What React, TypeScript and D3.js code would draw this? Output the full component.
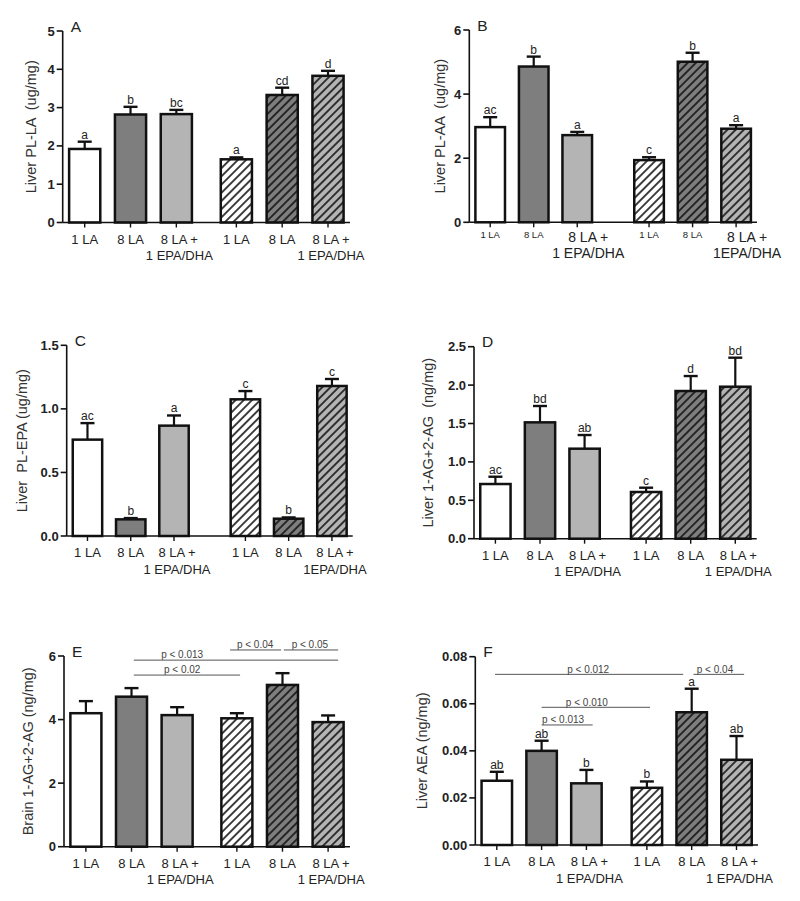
import React from "react";
import * as d3 from "d3";

// ---------- shared categories ----------
const groupLabels = ["1 LA", "8 LA", "8 LA +|1 EPA/DHA", "1 LA", "8 LA", "8 LA +|1 EPA/DHA"];
const groupLabelsAlt = ["1 LA", "8 LA", "8 LA +|1 EPA/DHA", "1 LA", "8 LA", "8 LA +|1EPA/DHA"];
const hatchedGroups = [false, false, false, true, true, true];

// ---------- Panel A ----------
const aMeans = [1.92, 2.82, 2.83, 1.65, 3.33, 3.83];
const aSem = [0.19, 0.2, 0.11, 0.05, 0.19, 0.13];
const aLetters = ["a", "b", "bc", "a", "cd", "d"];
const aTicks = [0, 1, 2, 3, 4, 5];

// ---------- Panel B ----------
const bMeans = [2.97, 4.86, 2.72, 1.94, 5.01, 2.92];
const bSem = [0.31, 0.31, 0.1, 0.09, 0.28, 0.11];
const bLetters = ["ac", "b", "a", "c", "b", "a"];
const bTicks = [0, 2, 4, 6];

// ---------- Panel C ----------
const cMeans = [0.758, 0.131, 0.868, 1.075, 0.136, 1.18];
const cSem = [0.13, 0.01, 0.08, 0.065, 0.01, 0.055];
const cLetters = ["ac", "b", "a", "c", "b", "c"];
const cTicks = [0, 0.5, 1.0, 1.5];

// ---------- Panel D ----------
const dMeans = [0.712, 1.515, 1.172, 0.608, 1.923, 1.979];
const dSem = [0.095, 0.213, 0.178, 0.056, 0.195, 0.378];
const dLetters = ["ac", "bd", "ab", "c", "d", "bd"];
const dTicks = [0, 0.5, 1.0, 1.5, 2.0, 2.5];

// ---------- Panel E ----------
const eMeans = [4.2, 4.72, 4.14, 4.04, 5.09, 3.92];
const eSem = [0.38, 0.27, 0.25, 0.16, 0.37, 0.21];
const eLetters = ["", "", "", "", "", ""];
const eTicks = [0, 2, 4, 6];
const eBracketLabels = ["p < 0.04", "p < 0.05", "p < 0.013", "p < 0.02"];
const eBracketFrom = [3.16, 4.34, 1.05, 1.05];
const eBracketTo = [4.28, 5.53, 5.53, 3.38];
const eBracketText = [3.71, 4.91, 2.11, 2.11];
const eBracketLevel = [6.19, 6.19, 5.87, 5.4];

// ---------- Panel F ----------
const fMeans = [0.0273, 0.04, 0.0262, 0.0243, 0.0564, 0.0362];
const fSem = [0.0038, 0.0043, 0.0057, 0.0027, 0.01, 0.0101];
const fLetters = ["ab", "ab", "b", "b", "a", "ab"];
const fTicks = [0, 0.02, 0.04, 0.06, 0.08];
const fBracketLabels = ["p < 0.012", "p < 0.04", "p < 0.010", "p < 0.013"];
const fBracketFrom = [-0.04, 4.39, 1.0, 1.0];
const fBracketTo = [4.16, 5.52, 3.42, 2.14];
const fBracketText = [2.04, 4.87, 2.01, 1.48];
const fBracketLevel = [0.0725, 0.0725, 0.0585, 0.051];

const FONT = "'Liberation Sans', Arial, Helvetica, sans-serif";
const FILLS = ["#ffffff", "#7e7e7e", "#b4b4b4"];

type Bracket = { labels: string[]; from: number[]; to: number[]; text: number[]; level: number[] };

type PanelProps = {
  letter: string;
  yLabel: string;
  means: number[];
  sem: number[];
  letters: string[];
  ticks: number[];
  tickFmt: string;
  yMax: number;
  labels: string[];
  axisX: number;
  xEnd: number;
  y0: number;
  yTop: number;
  gap: number;
  yLabelOffset: number;
  brackets?: Bracket;
  smallSingle?: boolean;
  multiDx?: number;
};

function Panel(p: PanelProps) {
  const slots = p.means.map((_, i) => (i < 3 ? i : i - 3 + 2 + p.gap));
  const x = d3.scaleLinear().domain([-0.48, slots[5] + 0.48]).range([p.axisX, p.xEnd]);
  const y = d3.scaleLinear().domain([0, p.yMax]).range([p.y0, p.yTop]);
  const spacing = x(1) - x(0);
  const bw = spacing * 0.68;
  const fmt = d3.format(p.tickFmt);
  const capW = 14;
  const midY = (p.y0 + p.yTop) / 2;
  const multiDx = p.multiDx ?? 3;

  return (
    <g fontFamily={FONT}>
      {/* bars */}
      {p.means.map((m, i) => {
        const cx = x(slots[i]);
        const top = y(m);
        const fill = FILLS[i % 3];
        return (
          <g key={"bar" + i}>
            <line x1={cx} x2={cx} y1={top} y2={y(m + p.sem[i])} stroke="#111" strokeWidth={2.2} />
            <line x1={cx - capW / 2} x2={cx + capW / 2} y1={y(m + p.sem[i])} y2={y(m + p.sem[i])} stroke="#111" strokeWidth={2.4} />
            <rect x={cx - bw / 2} y={top} width={bw} height={p.y0 - top} fill={fill} />
            {hatchedGroups[i] && (
              <rect x={cx - bw / 2} y={top} width={bw} height={p.y0 - top} fill="url(#hatch)" />
            )}
            <rect x={cx - bw / 2} y={top} width={bw} height={p.y0 - top} fill="none" stroke="#111" strokeWidth={2.5} />
            {p.letters[i] && (
              <text x={cx} y={y(m + p.sem[i]) - 3} textAnchor="middle" fontSize={12} fill="#222">
                {p.letters[i]}
              </text>
            )}
          </g>
        );
      })}
      {/* axes */}
      <line x1={p.axisX} x2={p.axisX} y1={p.yTop} y2={p.y0} stroke="#111" strokeWidth={1.6} />
      <line x1={p.axisX} x2={p.xEnd} y1={p.y0} y2={p.y0} stroke="#111" strokeWidth={1.6} />
      {p.ticks.map((t) => (
        <g key={"yt" + t}>
          <line x1={p.axisX - 6} x2={p.axisX} y1={y(t)} y2={y(t)} stroke="#111" strokeWidth={1.6} />
          <text x={p.axisX - 8} y={y(t) + 4.5} textAnchor="end" fontSize={13} fontWeight="bold" fill="#222">
            {fmt(t)}
          </text>
        </g>
      ))}
      {slots.map((s, i) => {
        const cx = x(s);
        const parts = p.labels[i].split("|");
        const multi = parts.length > 1;
        const size = p.smallSingle ? (multi ? 14 : 9.5) : 13;
        const dx = multi ? multiDx : 0;
        const base1 = p.smallSingle && !multi ? 16 : p.smallSingle ? 19.5 : 21;
        return (
          <g key={"xt" + i}>
            <line x1={cx} x2={cx} y1={p.y0} y2={p.y0 + 5} stroke="#111" strokeWidth={1.4} />
            {parts.map((t, j) => (
              <text
                key={j}
                x={cx + dx}
                y={p.y0 + base1 + j * 16.5}
                textAnchor="middle"
                fontSize={size}
                fill="#222"
              >
                {t}
              </text>
            ))}
          </g>
        );
      })}
      {/* y label */}
      <text
        transform={`translate(${p.axisX - p.yLabelOffset},${midY}) rotate(-90)`}
        textAnchor="middle"
        fontSize={14.5}
        fill="#333"
        style={{ whiteSpace: "pre" }}
      >
        {p.yLabel}
      </text>
      {/* panel letter */}
      <text x={p.axisX + 8} y={p.yTop + 0.5} fontSize={15.5} fill="#222">
        {p.letter}
      </text>
      {/* brackets */}
      {p.brackets &&
        p.brackets.labels.map((lab, k) => {
          const b = p.brackets!;
          const ly = y(b.level[k]);
          return (
            <g key={"br" + k}>
              <line x1={x(b.from[k])} x2={x(b.to[k])} y1={ly} y2={ly} stroke="#555" strokeWidth={1} />
              <text x={x(b.text[k])} y={ly - 1.8} textAnchor="middle" fontSize={10} fill="#444">
                {lab}
              </text>
            </g>
          );
        })}
    </g>
  );
}

export default function App() {
  return (
    <svg
      width={800}
      height={901}
      viewBox="0 0 800 901"
      style={{ position: "absolute", left: 0, top: 0, background: "#fff" }}
    >
      <defs>
        <pattern id="hatch" patternUnits="userSpaceOnUse" width={5.8} height={5.8} patternTransform="rotate(45)">
          <line x1={2.9} y1={-1} x2={2.9} y2={6.8} stroke="#111" strokeWidth={1.6} />
        </pattern>
      </defs>
      <rect x={0} y={0} width={800} height={901} fill="#fff" />
      <Panel
        letter="A"
        yLabel="Liver PL-LA  (ug/mg)"
        means={aMeans}
        sem={aSem}
        letters={aLetters}
        ticks={aTicks}
        tickFmt="d"
        yMax={5}
        labels={groupLabels}
        axisX={62.7}
        xEnd={350}
        y0={222.5}
        yTop={31}
        gap={1.31}
        yLabelOffset={27}
      />
      <Panel
        letter="B"
        yLabel="Liver PL-AA  (ug/mg)"
        means={bMeans}
        sem={bSem}
        letters={bLetters}
        ticks={bTicks}
        tickFmt="d"
        yMax={6}
        labels={groupLabelsAlt}
        axisX={469.3}
        xEnd={757}
        y0={222.3}
        yTop={30}
        gap={1.65}
        yLabelOffset={24}
        smallSingle={true}
        multiDx={11}
      />
      <Panel
        letter="C"
        yLabel="Liver  PL-EPA (ug/mg)"
        means={cMeans}
        sem={cSem}
        letters={cLetters}
        ticks={cTicks}
        tickFmt=".1f"
        yMax={1.5}
        labels={groupLabelsAlt}
        axisX={66.7}
        xEnd={352.7}
        y0={536}
        yTop={345.3}
        gap={1.65}
        yLabelOffset={40}
      />
      <Panel
        letter="D"
        yLabel="Liver 1-AG+2-AG  (ng/mg)"
        means={dMeans}
        sem={dSem}
        letters={dLetters}
        ticks={dTicks}
        tickFmt=".1f"
        yMax={2.5}
        labels={groupLabels}
        axisX={474}
        xEnd={756.7}
        y0={538.7}
        yTop={346.7}
        gap={1.38}
        yLabelOffset={41}
      />
      <Panel
        letter="E"
        yLabel="Brain 1-AG+2-AG (ng/mg)"
        means={eMeans}
        sem={eSem}
        letters={eLetters}
        ticks={eTicks}
        tickFmt="d"
        yMax={6}
        labels={groupLabels}
        axisX={64}
        xEnd={350}
        y0={846.7}
        yTop={656}
        gap={1.31}
        yLabelOffset={31}
        brackets={{ labels: eBracketLabels, from: eBracketFrom, to: eBracketTo, text: eBracketText, level: eBracketLevel }}
      />
      <Panel
        letter="F"
        yLabel="Liver AEA (ng/mg)"
        means={fMeans}
        sem={fSem}
        letters={fLetters}
        ticks={fTicks}
        tickFmt=".2f"
        yMax={0.08}
        labels={groupLabels}
        axisX={475.3}
        xEnd={758}
        y0={845}
        yTop={656.7}
        gap={1.35}
        yLabelOffset={48}
        brackets={{ labels: fBracketLabels, from: fBracketFrom, to: fBracketTo, text: fBracketText, level: fBracketLevel }}
      />
    </svg>
  );
}
